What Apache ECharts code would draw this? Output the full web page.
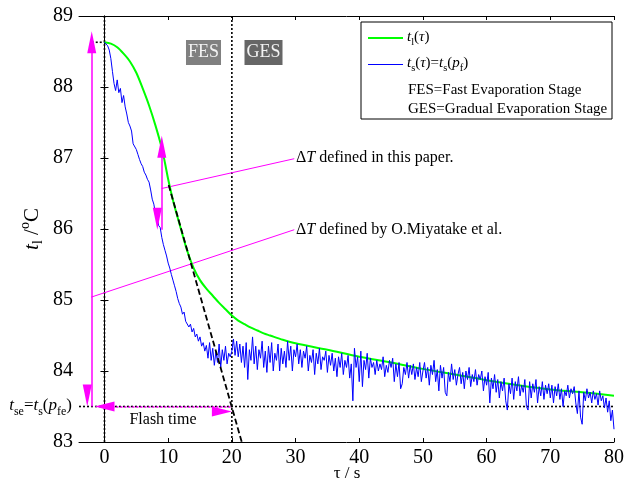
<!DOCTYPE html>
<html><head><meta charset="utf-8">
<script src="https://cdn.jsdelivr.net/npm/echarts@6/dist/echarts.min.js"></script>
<style>html,body{margin:0;padding:0;background:#fff}#c{width:627px;height:483px}</style>
</head><body><div id="c"></div><script>
const FONT = "Liberation Serif";
const xTicks = [0, 10, 20, 30, 40, 50, 60, 70, 80];
const yTicks = [83, 84, 85, 86, 87, 88, 89];

// t_l(tau) : liquid temperature
const greenTime = [0,1,2,3,4,5,6,7,8,9,9.5,10,10.5,11,12,13,14,15,16,17,18,19,20,21,22,23,24,25,26,28,30,35,40,45,50,55,60,65,70,75,80];
const greenTemp = [88.63,88.61,88.56,88.47,88.36,88.2,87.98,87.74,87.46,87.14,86.93,86.7,86.5,86.32,86.0,85.69,85.45,85.28,85.16,85.06,84.96,84.87,84.78,84.71,84.66,84.61,84.57,84.53,84.5,84.44,84.39,84.3,84.2,84.12,84.03,83.95,83.87,83.8,83.74,83.7,83.65];

// t_s(tau) = t_s(p_f) : saturation temperature, sampled every 0.25 s from 0 s
const blueStep = 0.25;
const blueTemp = [88.63,
88.62,88.58,88.52,88.40, 88.22,88.05,87.95,88.10, 87.92,87.98,87.78,87.88, 87.72,87.62,87.50,87.45,
87.38,87.20,87.18,87.12, 87.05,86.98,86.92,86.88, 86.80,86.76,86.70,86.66, 86.55,86.42,86.35,86.22,
86.18,86.05,86.02,85.88, 85.78,85.70,85.62,85.52, 85.45,85.36,85.28,85.20, 85.12,85.02,84.95,84.90,
84.80,84.83,84.70,84.68, 84.62,84.66,84.55,84.60, 84.48,84.52,84.42,84.48, 84.35,84.40,84.28,84.36,
84.18,84.40,84.15,84.32, 84.08,84.28,84.12,84.38, 84.05,84.30,84.15,84.35, 84.10,84.25,84.20,84.28,
84.45,84.22,84.42,84.20, 84.38,84.12,84.35,84.05, 84.40,83.88,84.30,84.15, 84.48,84.10,84.35,84.02,
84.30,84.18,84.42,84.05, 84.28,83.98,84.35,84.12, 84.40,84.00,84.25,84.15, 84.38,84.00,84.32,84.10,
84.28,84.05,84.42,84.15, 84.35,84.00,84.30,84.20, 84.38,84.10,84.30,84.05, 84.28,84.18,84.35,84.00,
84.22,84.12,84.30,83.95, 84.25,84.10,84.32,84.02, 84.20,84.15,84.28,83.98, 84.22,84.08,84.25,84.00,
84.18,83.92,84.20,84.05, 84.25,83.95,84.15,84.05, 84.22,83.90,84.10,83.58, 84.32,84.05,84.20,83.85,
84.28,83.78,84.15,84.02, 84.25,83.90,84.18,84.05, 84.12,83.95,84.15,84.00, 84.10,84.02,84.20,83.92,
84.08,83.98,84.15,84.05, 84.18,83.85,84.10,83.92, 84.12,83.75,83.82,84.05, 83.95,84.12,83.90,84.08,
83.95,84.10,83.88,84.05, 83.92,84.12,83.85,84.00, 84.12,83.90,84.05,83.80, 84.08,83.95,84.15,83.85,
84.02,83.72,84.08,83.90, 84.05,83.70,83.65,83.98, 83.85,84.10,83.88,84.02, 83.80,83.95,84.05,83.82,
83.98,83.75,84.00,83.88, 84.05,83.78,83.95,83.85, 84.02,83.80,83.95,83.88, 84.00,83.72,83.92,83.80,
83.98,83.55,83.90,83.75, 83.95,83.70,83.88,83.62, 83.85,83.72,83.90,83.58, 83.45,83.82,83.68,83.90,
83.60,83.85,83.72,83.92, 83.65,83.80,83.70,83.88, 83.50,83.45,83.85,83.62, 83.82,83.70,83.88,83.55,
83.78,83.65,83.85,83.60, 83.80,83.68,83.82,83.62, 83.80,83.55,83.78,83.65, 83.82,83.60,83.75,83.50,
83.72,83.65,83.80,83.62, 83.75,83.68,83.78,83.55, 83.40,83.72,83.35,83.25, 83.70,83.58,83.75,83.62,
83.70,83.55,83.72,83.60, 83.68,83.52,83.72,83.58, 83.65,83.48,83.62,83.42, 83.58,83.30,83.45,83.18];

// annotation geometry (data units)
const tStart = 0, tFlashEnd = 20, tse = 83.5, tInit = 88.63;
const tangentLine = [[10.08, 86.62], [21.55, 83.0]];
const arrowX = -2, deltaX = 9, deltaTop = 87.16, deltaBot = 85.99;
const pointer1 = [[8.98, 86.57], [29.8, 86.99]];
const pointer2 = [[-2.1, 85.04], [29.8, 85.99]];

const chart = echarts.init(document.getElementById('c'));
const blueData = blueTemp.map((v, i) => [i * blueStep, v]);
const greenData = greenTime.map((t, i) => [t, greenTemp[i]]);
const dotted = { color: '#000', width: 1.6, type: [2, 2] };
function annot(data, style, z) {
  return { type: 'line', data, symbol: 'none', silent: true, lineStyle: style, z: z || 1, animation: false };
}
const axisCommon = {
  axisLine: { lineStyle: { color: '#000', width: 1 } },
  splitLine: { show: false }
};
const lbl = { color: '#000', fontFamily: FONT, fontSize: 20 };

chart.setOption({
  animation: false,
  backgroundColor: '#fff',
  textStyle: { fontFamily: FONT },
  grid: { left: 79, right: 9, top: 16, bottom: 41, containLabel: false },
  xAxis: [
    Object.assign({ type: 'value', min: -4, max: 80, position: 'bottom',
      axisTick: { inside: true, length: 4, customValues: xTicks, lineStyle: { color: '#000' } },
      axisLabel: Object.assign({ customValues: xTicks, margin: 6 }, lbl) }, axisCommon),
    Object.assign({ type: 'value', min: -4, max: 80, position: 'top',
      axisTick: { inside: true, length: 4, customValues: xTicks, lineStyle: { color: '#000' } },
      axisLabel: { show: false } }, axisCommon)
  ],
  yAxis: [
    Object.assign({ type: 'value', min: 83, max: 89, interval: 1, position: 'left',
      axisTick: { inside: true, length: 4, lineStyle: { color: '#000' } },
      axisLabel: Object.assign({ margin: 6 }, lbl) }, axisCommon),
    Object.assign({ type: 'value', min: 83, max: 89, interval: 1, position: 'right',
      axisTick: { inside: true, length: 4, lineStyle: { color: '#000' } },
      axisLabel: { show: false } }, axisCommon)
  ],
  series: [
    annot([[tStart, 83], [tStart, 89]], dotted),
    annot([[tFlashEnd, 83], [tFlashEnd, 89]], dotted),
    annot([[-4, tse], [80, tse]], dotted),
    annot([[arrowX, tInit], [tStart, tInit]], dotted),
    annot(pointer1, { color: '#ff00ff', width: 1 }, 2),
    annot(pointer2, { color: '#ff00ff', width: 1 }, 2),
    { type: 'line', name: 'tl', data: greenData, symbol: 'none', smooth: 0.3, silent: true,
      lineStyle: { color: '#00ff00', width: 2 }, z: 3 },
    { type: 'line', name: 'ts', data: blueData, symbol: 'none', silent: true,
      lineStyle: { color: '#0000ff', width: 1 }, z: 4 },
    Object.assign(annot(tangentLine, { color: '#000', width: 1.8, type: [6, 3] }, 5), {
      markLine: {
        silent: true, animation: false,
        symbol: ['triangle', 'triangle'], symbolSize: [9, 22], symbolOffset: [0, '50%'],
        label: { show: false },
        lineStyle: { color: '#ff00ff', width: 1.5, type: 'solid' },
        emphasis: { disabled: true },
        data: [
          [{ coord: [arrowX, tInit] }, { coord: [arrowX, tse] }],
          [{ coord: [deltaX, deltaTop] }, { coord: [deltaX, deltaBot] }],
          [{ coord: [tStart, tse], lineStyle: { type: [2, 2], width: 1.6 }, symbolSize: [10, 20] },
           { coord: [tFlashEnd, tse], symbolSize: [10, 20] }]
        ]
      }
    })
  ]
});

function mkRich(fs, lh, sfs) {
  return {
    n: { fontFamily: FONT, fontSize: fs, lineHeight: lh },
    i: { fontFamily: FONT, fontSize: fs, lineHeight: lh, fontStyle: 'italic' },
    sub: { fontFamily: FONT, fontSize: sfs, lineHeight: sfs, verticalAlign: 'bottom' }
  };
}
const rich15 = mkRich(15, 21, 10.5);
const rich16 = mkRich(16, 22, 11);
const rich17 = mkRich(17, 24, 12);
function txt(x, y, text, rich, extra) {
  return Object.assign({ type: 'text', x, y, silent: true, z: 100,
    style: Object.assign({ text, rich, fontFamily: FONT, fontSize: 15, fill: '#000', align: 'left', verticalAlign: 'middle' }, extra || {}) });
}

chart.setOption({
  graphic: [
    // legend
    { type: 'rect', shape: { x: 361, y: 22, width: 251, height: 97 }, style: { fill: '#fff', stroke: '#000', lineWidth: 1 }, z: 90, silent: true },
    { type: 'line', shape: { x1: 368, y1: 38, x2: 403, y2: 38 }, style: { stroke: '#00ff00', lineWidth: 2 }, z: 95, silent: true },
    { type: 'line', shape: { x1: 368, y1: 64.5, x2: 403, y2: 64.5 }, style: { stroke: '#0000ff', lineWidth: 1 }, z: 95, silent: true },
    txt(407, 37, '{i|t}{sub|l}{n|(}{i|τ}{n|)}', rich15),
    txt(407, 63, '{i|t}{sub|s}{n|(}{i|τ}{n|)=}{i|t}{sub|s}{n|(}{i|p}{sub|f}{n|)}', rich15),
    txt(408, 90, 'FES=Fast Evaporation Stage', null, { fontSize: 15 }),
    txt(408, 109, 'GES=Gradual Evaporation Stage', null, { fontSize: 15 }),
    // stage labels
    { type: 'text', x: 203.5, y: 52.5, silent: true, z: 100,
      style: { text: 'FES', fontFamily: FONT, fontSize: 18, fill: '#f2f2f2', align: 'center', verticalAlign: 'middle',
        backgroundColor: '#808080', padding: [4, 2, 3, 2] } },
    { type: 'text', x: 263.5, y: 52.5, silent: true, z: 100,
      style: { text: 'GES', fontFamily: FONT, fontSize: 18, fill: '#f2f2f2', align: 'center', verticalAlign: 'middle',
        backgroundColor: '#666666', padding: [4, 2, 3, 2] } },
    // delta T labels
    txt(296, 158, '{n|Δ}{i|T}{n| defined in this paper.}', rich16),
    txt(296, 230, '{n|Δ}{i|T}{n| defined by O.Miyatake et al.}', rich16),
    // flash time
    txt(163, 420, 'Flash time', null, { fontSize: 16, align: 'center' }),
    // tse label
    txt(72, 406, '{i|t}{sub|se}{n|=}{i|t}{sub|s}{n|(}{i|p}{sub|fe}{n|)}', rich17, { align: 'right' }),
    // axis names
    txt(347, 474, '{n|τ / s}', { n: { fontFamily: FONT, fontSize: 17 } }, { align: 'center' }),
    { type: 'text', x: 32, y: 229, rotation: Math.PI / 2, silent: true, z: 100,
      style: { text: '{i|t}{sub|l}{n| /}{sup|o}{n|C}', align: 'center', verticalAlign: 'middle', fill: '#000',
        rich: {
          n: { fontFamily: FONT, fontSize: 21, lineHeight: 27 },
          i: { fontFamily: FONT, fontSize: 21, lineHeight: 27, fontStyle: 'italic' },
          sub: { fontFamily: FONT, fontSize: 14, lineHeight: 14, verticalAlign: 'bottom' },
          sup: { fontFamily: FONT, fontSize: 14, lineHeight: 14, verticalAlign: 'top' }
        } } }
  ]
});
</script></body></html>
